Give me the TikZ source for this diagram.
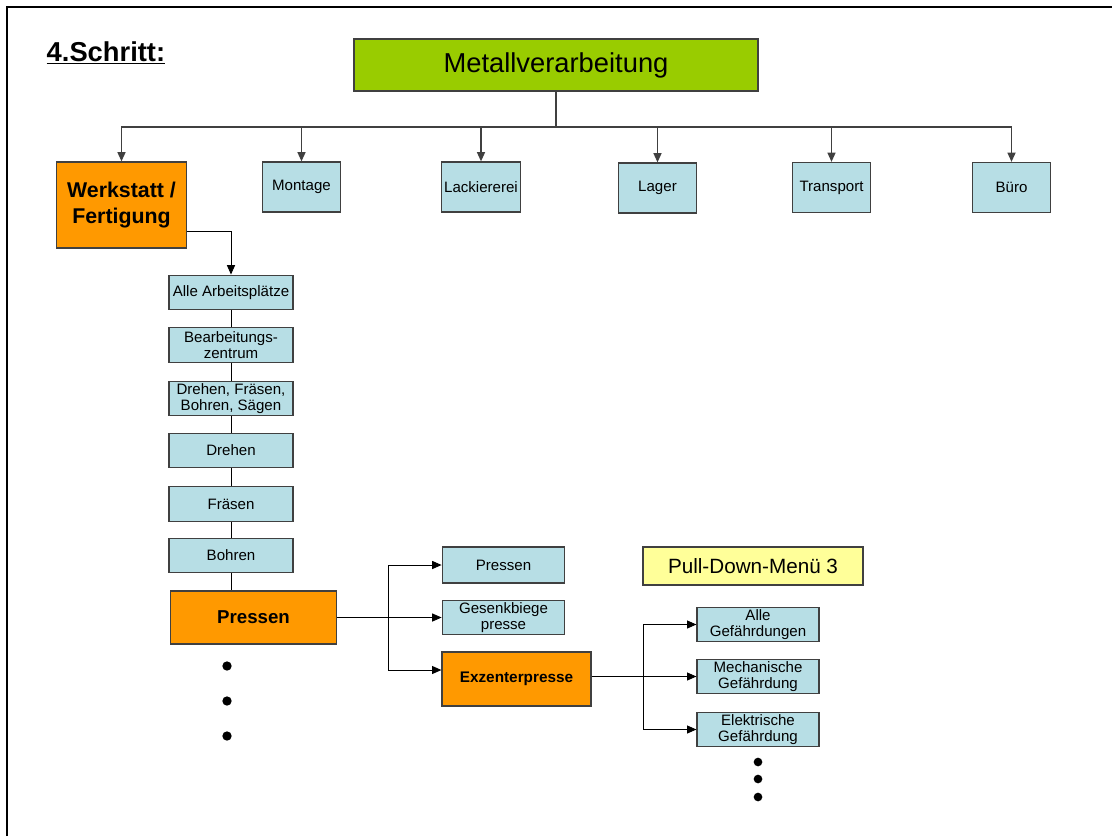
\documentclass[tikz,border=0pt]{standalone}
\usepackage{fontspec}
\setmainfont{Liberation Sans}
\usetikzlibrary{arrows.meta}
\definecolor{gruen}{RGB}{153,204,0}
\definecolor{orange}{RGB}{255,153,0}
\definecolor{hellblau}{RGB}{183,222,229}
\definecolor{gelb}{RGB}{255,255,153}
\definecolor{rahmen}{RGB}{64,64,64}
\begin{document}
\begin{tikzpicture}[x=0.75pt,y=-0.75pt,
  box/.style={draw=rahmen,line width=0.9pt,inner sep=1pt,align=center,text=black},
  blau/.style={box,fill=hellblau,font=\fontsize{11.3}{12.3}\selectfont},
  klein/.style={blau,minimum width=59pt,minimum height=37.5pt},
  spalte/.style={blau,minimum width=93pt,minimum height=26pt},
  rot/.style={box,fill=orange,font=\bfseries},
  pfeil/.style={-{Triangle[length=7pt,width=6pt]}},
  linie/.style={draw,line width=0.7pt},
  punkt/.style={circle,fill=black,inner sep=0pt,minimum size=7pt}
]
\useasboundingbox (0,0) rectangle (1112,836);
\path[draw,line width=2pt] (7,836) -- (7,7) -- (1112,7);
\node[anchor=base west,font=\fontsize{20.5}{24}\selectfont\bfseries] (titel) at (42,61) {\underline{4.Schritt:}};

% obere Ebene
\node[box,fill=gruen,minimum width=303pt,minimum height=39pt,font=\fontsize{20.5}{24}\selectfont] (metall) at (556,65) {Metallverarbeitung};
\node[rot,minimum width=98pt,minimum height=64.5pt,font=\fontsize{16}{19}\selectfont\bfseries] (werk) at (121.5,205) {Werkstatt /\\Fertigung};
\node[klein] (montage) at (301.5,187) {Montage};
\node[klein] (lack) at (481,187) {Lackiererei};
\node[klein] (lager) at (657.5,188) {Lager};
\node[klein] (transport) at (831.5,187.5) {Transport};
\node[klein] (buero) at (1011.5,187.5) {Büro};
\coordinate (hub) at (556,127);
\path[draw,line width=1.2pt,rahmen] (metall.south) -- (hub);
\foreach \ziel in {werk,montage,lack,lager,transport,buero}
  \path[draw,line width=1.2pt,rahmen,pfeil] (hub) -| (\ziel.north);

% Werkstatt-Spalte
\node[spalte] (alle) at (231,292.5) {Alle Arbeitsplätze};
\node[spalte] (bearb) at (231,345) {Bearbeitungs-\\zentrum};
\node[spalte] (dfbs) at (231,398.5) {Drehen, Fräsen,\\Bohren, Sägen};
\node[spalte] (drehen) at (231,450.5) {Drehen};
\node[spalte] (fraesen) at (231,504) {Fräsen};
\node[spalte] (bohren) at (231,555.5) {Bohren};
\node[rot,minimum width=125pt,minimum height=39.75pt,font=\fontsize{14}{17}\selectfont\bfseries] (pressen) at (253.5,617.5) {Pressen};
\path[linie,pfeil] ([yshift=12.75pt]werk.south east) -| (alle.north);
\path[linie] (alle) -- (bearb) -- (dfbs) -- (drehen) -- (fraesen) -- (bohren);
\path[linie] (bohren.south) -- (bohren.south |- pressen.north);
\foreach \y in {666,701,736}
  \node[punkt] at (227,\y) {};

% Pressen
\node[spalte,minimum width=92pt,minimum height=27pt] (presse) at (503.5,565) {Pressen};
\node[spalte,minimum width=92pt,minimum height=26pt] (gesenk) at (503.5,617.5) {Gesenkbiege\\presse};
\node[rot,minimum width=111.75pt,minimum height=40.5pt,font=\fontsize{11.5}{14}\selectfont\bfseries] (exz) at (516.5,679) {Exzenterpresse};
\coordinate (pgabel) at (388,617.5);
\path[linie,pfeil] (pressen.east) -- (gesenk.west);
\path[linie,pfeil] (pgabel) |- (presse.west);
\path[linie,pfeil] (pgabel) |- ([yshift=6.75pt]exz.west);

% Gefaehrdungen
\node[box,fill=gelb,minimum width=165pt,minimum height=28.5pt,font=\fontsize{15.5}{18}\selectfont] (menue) at (753,566) {Pull-Down-Menü 3};
\node[spalte,minimum width=91.5pt] (galle) at (758,624.5) {Alle\\Gefährdungen};
\node[spalte,minimum width=91.5pt] (gmech) at (758,676.5) {Mechanische\\Gefährdung};
\node[spalte,minimum width=91.5pt] (gelek) at (758,729.5) {Elektrische\\Gefährdung};
\coordinate (ggabel) at (643,676.5);
\path[linie,pfeil] (exz.east |- gmech) -- (gmech.west);
\path[linie,pfeil] (ggabel) |- (galle.west);
\path[linie,pfeil] (ggabel) |- (gelek.west);
\foreach \y in {762,779,797}
  \node[punkt,minimum size=6.5pt] at (758,\y) {};
\end{tikzpicture}
\end{document}
